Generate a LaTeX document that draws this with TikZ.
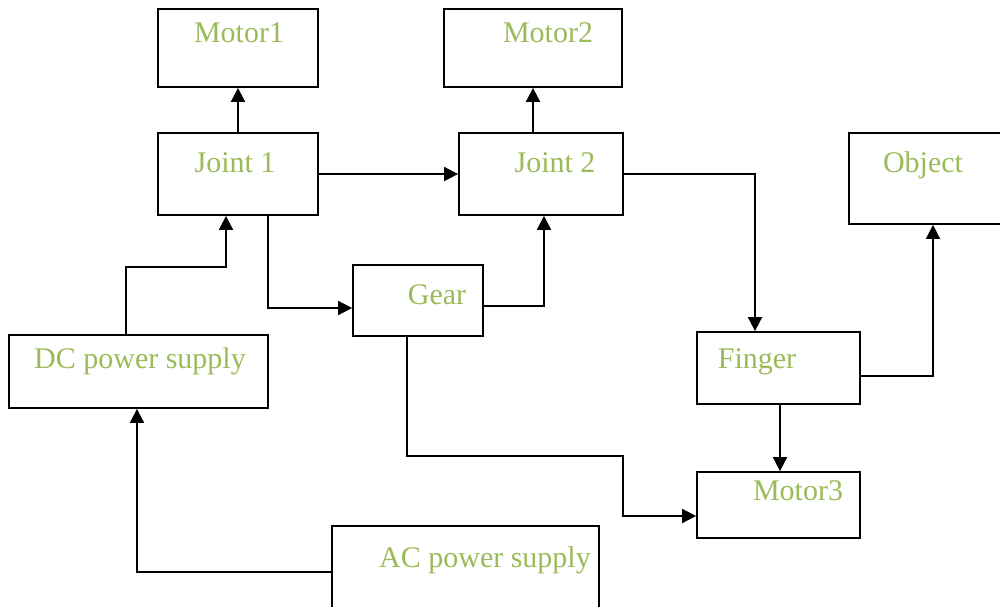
\documentclass[tikz,border=0pt]{standalone}
\usepackage{fontspec}
\setmainfont{Liberation Serif}
\usetikzlibrary{arrows.meta}
\definecolor{txtgreen}{RGB}{155,187,89}
\tikzset{
  box/.style={draw=black, line width=1.8pt, rectangle, inner sep=0pt},
  lbl/.style={text=txtgreen, font=\fontsize{30}{36}\selectfont, anchor=base, inner sep=0pt},
  arr/.style={draw=black, line width=1.8pt, -{Triangle[length=14pt,width=14pt]}},
  ln/.style={draw=black, line width=1.8pt}
}
\begin{document}
\begin{tikzpicture}[x=1pt,y=-1pt]
\useasboundingbox (0,0) rectangle (1000,606);
\fill[white] (0,0) rectangle (1000,606);
% boxes
\node[box, minimum width=160pt, minimum height=78pt] (m1) at (238,48) {};
\node[box, minimum width=178pt, minimum height=78pt] (m2) at (533,48) {};
\node[box, minimum width=160pt, minimum height=82pt] (j1) at (238,174) {};
\node[box, minimum width=164pt, minimum height=82pt] (j2) at (541,174) {};
\node[box, minimum width=156pt, minimum height=91pt] (obj) at (927,178.5) {};
\node[box, minimum width=130pt, minimum height=71pt] (gear) at (418,300.5) {};
\node[box, minimum width=259pt, minimum height=73pt] (dc) at (138.5,371.5) {};
\node[box, minimum width=163pt, minimum height=72pt] (fin) at (778.5,368) {};
\node[box, minimum width=163pt, minimum height=66pt] (m3) at (778.5,505) {};
\node[box, minimum width=267pt, minimum height=84pt] (ac) at (465.5,568) {};
% labels
\node[lbl] (tm1) at (239,42) {Motor1};
\node[lbl] (tm2) at (548,42) {Motor2};
\node[lbl] (tj1) at (235,172) {Joint 1};
\node[lbl] (tj2) at (555,172) {Joint 2};
\node[lbl] (tobj) at (923,172) {Object};
\node[lbl] (tgear) at (437,304) {Gear};
\node[lbl] (tdc) at (140,368) {DC power supply};
\node[lbl] (tfin) at (757,368) {Finger};
\node[lbl] (tm3) at (798,500) {Motor3};
\node[lbl] (tac) at (485,567) {AC power supply};
% connectors
\draw[arr] (j1.north) -- (m1.south);
\draw[arr] (j2.north -| m2.south) -- (m2.south);
\draw[arr] (j1.east) -- (j2.west);
\draw[arr] (dc.north -| 126,0) |- ([xshift=-12pt]j1.south |- 0,267) -- ([xshift=-12pt]j1.south);
\draw[arr] ([xshift=30pt]j1.south) |- ([yshift=-7.5pt]gear.west);
\draw[arr] ([yshift=-5.5pt]gear.east) -| ([xshift=3pt]j2.south);
\draw[arr] (j2.east) -| ([xshift=-23.5pt]fin.north);
\draw[arr] ([yshift=-8pt]fin.east) -| ([xshift=6pt]obj.south);
\draw[arr] ([xshift=1.5pt]fin.south) -- ([xshift=1.5pt]m3.north);
\coordinate (bend1) at (623,456);
\draw[arr] ([xshift=-11pt]gear.south) |- (bend1) |- ([yshift=-11pt]m3.west);
\draw[arr] ([yshift=-4pt]ac.west) -| ([xshift=-1.5pt]dc.south);
\end{tikzpicture}
\end{document}
